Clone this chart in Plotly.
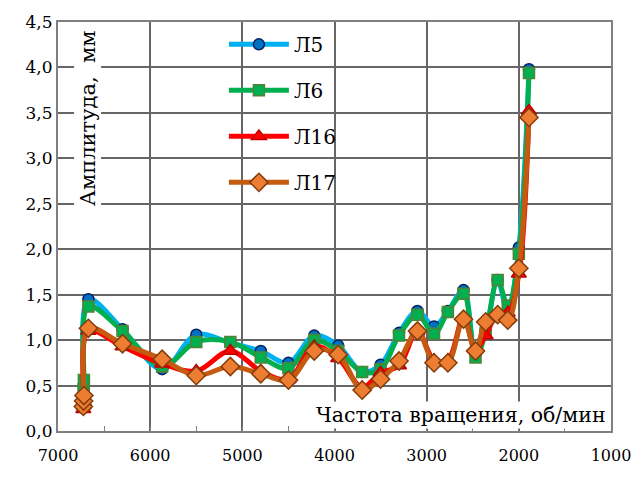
import plotly.graph_objects as go

rpm = [6725, 6722, 6719, 6670, 6300, 5870, 5500, 5130, 4800, 4500, 4220, 3960,
       3700, 3500, 3300, 3100, 2920, 2770, 2600, 2470, 2360, 2230, 2120, 2000, 1890]

l5 = [0.30, 0.38, 0.46, 1.45, 1.12, 0.68, 1.06, 0.97, 0.88, 0.75, 1.05, 0.94,
      0.65, 0.73, 1.08, 1.32, 1.15, 1.32, 1.55, 0.85, 1.10, 1.66, 1.30, 2.02, 3.98]
l6 = [0.36, 0.46, 0.56, 1.37, 1.10, 0.71, 0.98, 0.98, 0.81, 0.69, 1.00, 0.88,
      0.65, 0.68, 1.05, 1.28, 1.07, 1.31, 1.51, 0.81, 1.08, 1.66, 1.38, 1.95, 3.94]
l16 = [0.24, 0.28, 0.32, 1.10, 0.93, 0.74, 0.66, 0.88, 0.66, 0.57, 0.93, 0.80,
       0.48, 0.64, 0.72, 1.10, 0.78, 0.78, 1.25, 0.90, 1.05, 1.30, 1.30, 1.73, 3.52]
l17 = [0.27, 0.33, 0.39, 1.13, 0.96, 0.79, 0.61, 0.71, 0.63, 0.56, 0.88, 0.84,
       0.45, 0.57, 0.77, 1.10, 0.75, 0.75, 1.23, 0.88, 1.20, 1.28, 1.22, 1.79, 3.45]

names = ["Л5", "Л6", "Л16", "Л17"]
series = [l5, l6, l16, l17]
line_colors = ["#00B0F0", "#00B050", "#FF0000", "#C55A11"]
marker_fill = ["#0070C0", "#00B050", "#FF0000", "#ED7D31"]
marker_edge = ["#002060", "#548235", "#C00000", "#843C0C"]
symbols = ["circle", "square", "triangle-up", "diamond"]
sizes = [11, 11, 13, 14]

SERIF = "DejaVu Serif"
fig = go.Figure()
for i, (nm, ys) in enumerate(zip(names, series)):
    fig.add_trace(go.Scatter(
        x=rpm, y=ys, name=nm, mode="lines+markers", legendgroup=nm,
        line=dict(color=line_colors[i], width=5, shape="spline", smoothing=1.0),
        marker=dict(symbol=symbols[i], size=sizes[i], color=marker_fill[i],
                    line=dict(color=marker_edge[i], width=1.5)),
    ))

grid = "#666666"
fig.update_layout(
    width=643, height=477,
    margin=dict(l=58, r=22, t=22, b=37),
    paper_bgcolor="white", plot_bgcolor="white",
    separators=", ",
    font=dict(family=SERIF, size=16, color="black"),
    showlegend=True,
    legend=dict(x=0.30, y=0.993, xanchor="left", yanchor="top",
                bgcolor="rgba(0,0,0,0)", font=dict(family=SERIF, size=20),
                tracegroupgap=17, itemwidth=60),
    xaxis=dict(range=[7000, 1000], dtick=1000, tick0=1000, showgrid=True,
               gridcolor=grid, gridwidth=2, showline=True, mirror=True,
               linecolor="#808080", linewidth=2, ticks="inside", ticklen=5,
               tickcolor="#808080", zeroline=False, ticklabeloverflow="allow",
               ticklabelstandoff=9,
               minor=dict(dtick=500, tick0=500, ticks="inside", ticklen=5,
                          tickcolor="#808080", showgrid=False),
               tickfont=dict(family=SERIF, size=16, color="black")),
    yaxis=dict(range=[0, 4.5], dtick=0.5, tickformat=".1f", showgrid=True,
               gridcolor=grid, gridwidth=2, showline=True, mirror=True,
               linecolor="#808080", linewidth=2, zeroline=False,
               tickfont=dict(family=SERIF, size=17, color="black")),
)

fig.add_annotation(xref="paper", yref="paper", x=0.053, y=0.766,
                   text="Амплитуда,  мм", textangle=-90, showarrow=False,
                   bgcolor="white", font=dict(family=SERIF, size=21),
                   xanchor="center", yanchor="middle")
fig.add_annotation(xref="paper", yref="paper", x=0.995, y=0.038,
                   text="Частота вращения, об/мин", showarrow=False,
                   bgcolor="white", font=dict(family=SERIF, size=20.5),
                   xanchor="right", yanchor="middle")

fig.write_html("out.html")
